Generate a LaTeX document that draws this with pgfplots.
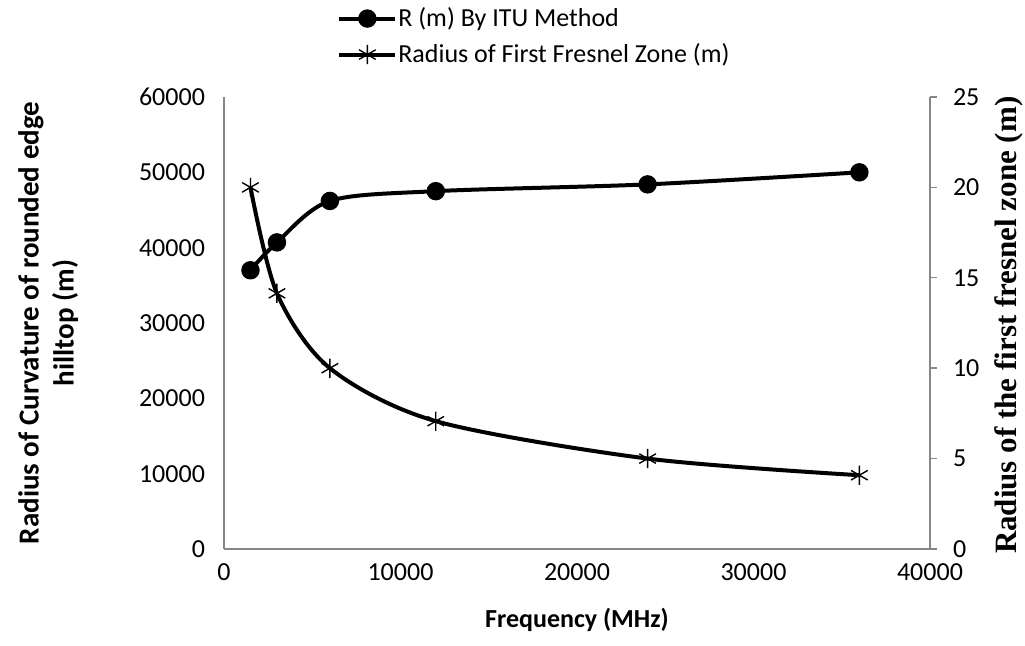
\documentclass[border=0pt]{standalone}
\usepackage{fontspec}
\setmainfont{Carlito}
\newfontfamily\timesfont{Liberation Serif}
\usepackage{pgfplots}
\pgfplotsset{compat=1.18}

\definecolor{axisgray}{HTML}{868686}

% frequency (MHz), R by ITU method (m)
\pgfplotstableread{
freq   R
1500   37000
3000   40700
6000   46200
12000  47500
24000  48400
36000  50000
}\itudata
% frequency (MHz), radius of first Fresnel zone (m)
\pgfplotstableread{
freq   r
1500   20.00
3000   14.14
6000   10.00
12000  7.07
24000  5.00
36000  4.08
}\fresneldata

\pgfplotsset{
  base/.style={
    scale only axis,
    width=353pt, height=226pt,
    xmin=0, xmax=40000,
    axis line style={draw=axisgray, line width=0.7pt, -},
    scaled ticks=false,
    tick label style={
      font=\fontsize{13}{15}\selectfont,
      /pgf/number format/assume math mode=true,
      /pgf/number format/set thousands separator={}
    },
  },
  itu/.style={black, line width=2pt, smooth, tension=0.5,
    mark=*, mark size=3.6pt, mark options={solid, fill=black}},
  fres/.style={black, line width=2pt, smooth, tension=0.5,
    mark=asterisk, mark size=4.8pt, mark options={solid, line width=0.7pt}},
}

\begin{document}
\begin{tikzpicture}
\begin{axis}[
  base,
  ymin=0, ymax=60000,
  axis x line*=bottom, axis y line*=left,
  xtick={0,10000,...,40000},
  ytick={0,10000,...,60000},
  major tick length=0pt,
  yticklabel style={xshift=-6pt},
  xticklabel style={yshift=-4pt},
  xlabel={\bfseries Frequency (MHz)},
  xlabel style={font=\fontsize{13}{15}\selectfont, at={(axis description cs:0.5,-0.157)}, anchor=center},
  ylabel={\bfseries Radius of Curvature of rounded edge\\ \bfseries hilltop (m)},
  ylabel style={font=\fontsize{14.5}{17.5}\selectfont, align=center, at={(axis description cs:-0.249,0.5)}, anchor=center},
]
\addplot[itu] table[x=freq, y=R] {\itudata};
\end{axis}

\begin{axis}[
  base,
  ymin=0, ymax=25,
  axis x line=none, axis y line*=right,
  ytick={0,5,...,25},
  tick align=outside,
  major tick length=3.5pt,
  ytick style={draw=axisgray, line width=0.7pt},
  yticklabel style={xshift=4.5pt},
  ylabel={\timesfont\bfseries Radius of the first fresnel zone (m)},
  ylabel style={font=\fontsize{15.5}{17}\selectfont, at={(axis description cs:1.112,0.495)}, anchor=center},
  legend cell align=left,
  legend style={
    at={(axis description cs:0.16,1)}, anchor=south west, yshift=14.5pt,
    draw=none, fill=none, inner sep=0pt, row sep=5pt,
    font=\fontsize{13}{15}\selectfont,
    nodes={inner ysep=1pt, inner xsep=0.5pt},
  },
  legend image code/.code={
    \draw[mark repeat=2, mark phase=2, #1] plot coordinates {(0pt,0pt) (14pt,0pt) (28pt,0pt)};
  },
]
\addlegendimage{itu}
\addlegendentry{R (m) By ITU Method}
\addplot[fres] table[x=freq, y=r] {\fresneldata};
\addlegendentry{Radius of First Fresnel Zone (m)}
\end{axis}

\pgfresetboundingbox
\path[use as bounding box] (-112pt,-48.5pt) rectangle (400.5pt,274.5pt);
\end{tikzpicture}
\end{document}
